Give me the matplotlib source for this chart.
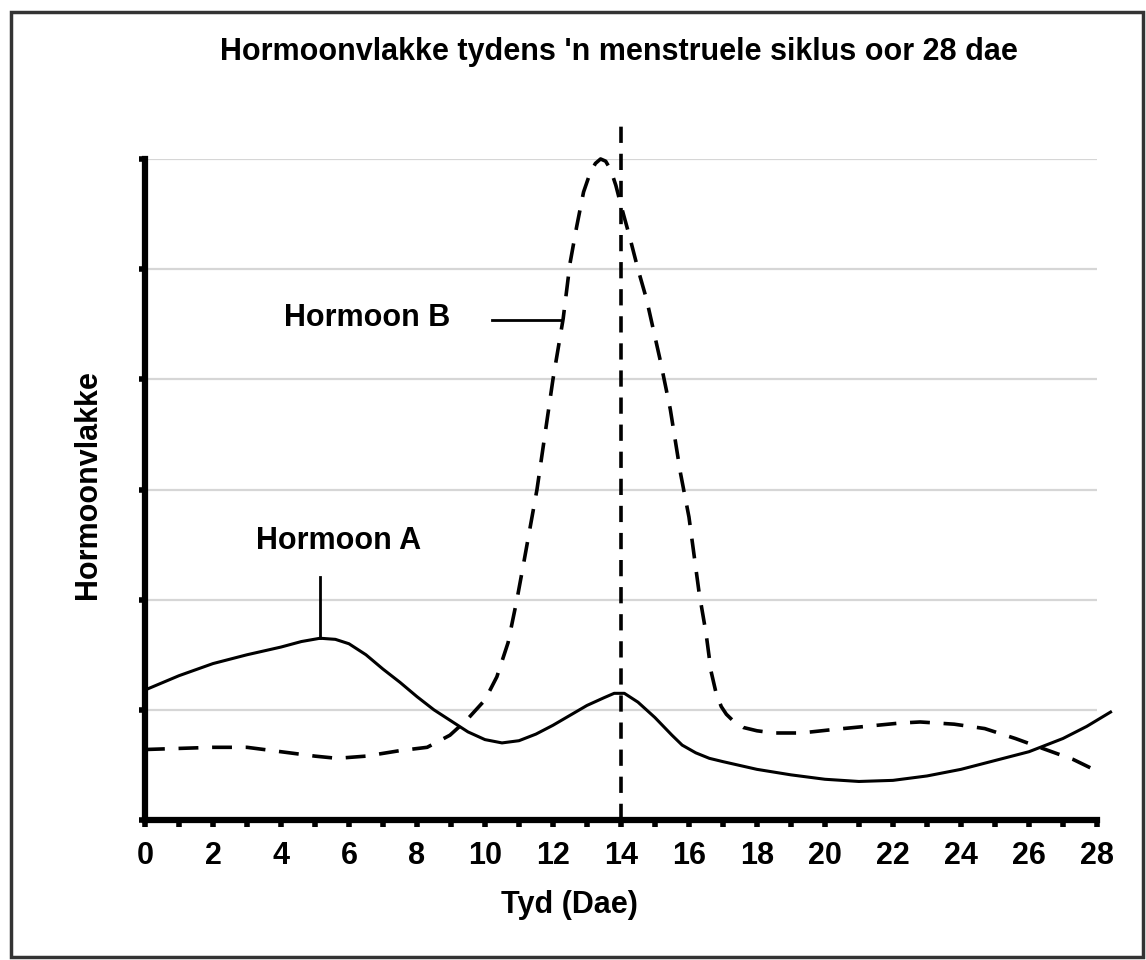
import matplotlib
matplotlib.use('Agg')
import matplotlib.pyplot as plt
from matplotlib.patches import Rectangle

plt.rcParams['font.family'] = ['Liberation Sans', 'DejaVu Sans']
plt.rcParams['font.weight'] = 'bold'

# hormone A (solid line)
days_a = [0, 1, 2, 3, 4, 4.6, 5.15, 5.6, 6, 6.5, 7, 7.5, 8, 8.5, 9, 9.5, 10, 10.5, 11, 11.5,
          12, 12.5, 13, 13.5, 13.8, 14.1, 14.5, 15, 15.5, 15.8, 16.2, 16.6, 17, 18, 19, 20,
          21, 22, 23, 24, 25, 26, 27, 27.7, 28.4]
level_a = [1.18, 1.31, 1.42, 1.50, 1.57, 1.62, 1.65, 1.64, 1.60, 1.50, 1.37, 1.25, 1.12, 1.00,
           0.90, 0.80, 0.73, 0.70, 0.72, 0.78, 0.86, 0.95, 1.04, 1.11, 1.15, 1.15, 1.07, 0.93,
           0.77, 0.68, 0.61, 0.56, 0.53, 0.46, 0.41, 0.37, 0.35, 0.36, 0.40, 0.46, 0.54, 0.62,
           0.74, 0.85, 0.98]

# hormone B (dashed line)
days_b = [0, 1, 2, 3, 4, 5, 5.65, 6.5, 7.5, 8.3, 8.97, 9.47, 10.0, 10.35, 10.68, 10.94, 11.12,
          11.53, 12.0, 12.3, 12.5, 12.7, 12.9, 13.1, 13.25, 13.4, 13.55, 13.7, 13.85, 14.0,
          14.25, 14.5, 14.75, 15.15, 15.45, 15.75, 16.0, 16.3, 16.5, 16.65, 16.8, 16.95, 17.1,
          17.3, 17.6, 18.0, 18.5, 19.3, 20.2, 21.2, 22.2, 22.8, 23.8, 24.7, 25.6, 26.4, 27.3,
          28.1]
level_b = [0.64, 0.65, 0.66, 0.66, 0.62, 0.58, 0.56, 0.58, 0.63, 0.66, 0.77, 0.91, 1.09, 1.30,
           1.61, 2.00, 2.30, 3.00, 4.00, 4.55, 5.05, 5.39, 5.70, 5.88, 5.96, 6.00, 5.98, 5.90,
           5.76, 5.58, 5.30, 5.00, 4.73, 4.18, 3.73, 3.15, 2.75, 2.06, 1.70, 1.35, 1.15, 1.03,
           0.96, 0.90, 0.84, 0.81, 0.79, 0.79, 0.82, 0.85, 0.88, 0.89, 0.87, 0.83, 0.74, 0.65,
           0.55, 0.43]

ovulation_day = 14
x_ticks = list(range(0, 29, 2))
y_levels = list(range(0, 7))

fig = plt.figure(figsize=(11.46, 9.6), dpi=100)
ax = fig.add_axes([0.1265, 0.1458, 0.8307, 0.6886])

ax.plot(days_a, level_a, color='black', lw=2.2, clip_on=False, zorder=3, solid_joinstyle='round')
ax.plot(days_b, level_b, color='black', lw=2.6, dashes=(5.5, 3.8), clip_on=False, zorder=3)
ax.plot([ovulation_day, ovulation_day], [0, 6.32], color='black', lw=2.6,
        dashes=(4.5, 3), clip_on=False, zorder=3)

# labels with pointer lines
ax.text(5.68, 2.53, 'Hormoon A', ha='center', va='center', fontsize=22, fontweight='bold')
ax.plot([5.15, 5.15], [1.65, 2.21], color='black', lw=2)
ax.text(6.53, 4.56, 'Hormoon B', ha='center', va='center', fontsize=22, fontweight='bold')
ax.plot([10.2, 12.26], [4.54, 4.54], color='black', lw=2)

ax.set_xlim(0, 28)
ax.set_ylim(0, 6)
ax.set_xticks(x_ticks)
ax.set_xticks(range(0, 29), minor=True)
ax.set_xticklabels([str(t) for t in x_ticks], fontsize=22, fontweight='bold')
ax.set_yticks(y_levels)
ax.set_yticklabels([])
ax.tick_params(axis='x', which='both', length=5, width=4, pad=10, direction='out')
ax.tick_params(axis='y', length=4, width=4, direction='out')
ax.grid(axis='y', color='#d6d6d6', lw=1.6)
ax.set_axisbelow(True)

for s in ['top', 'right']:
    ax.spines[s].set_visible(False)
ax.spines['left'].set_linewidth(4.5)
ax.spines['bottom'].set_linewidth(4.5)

fig.text(0.540, 0.946, "Hormoonvlakke tydens 'n menstruele siklus oor 28 dae",
         ha='center', va='center', fontsize=22, fontweight='bold')
fig.text(0.497, 0.057, 'Tyd (Dae)', ha='center', va='center', fontsize=22, fontweight='bold')
fig.text(0.077, 0.495, 'Hormoonvlakke', ha='center', va='center', rotation=90,
         fontsize=22, fontweight='bold')

fig.patches.append(Rectangle((0.0095, 0.003), 0.988, 0.985, transform=fig.transFigure,
                             fill=False, edgecolor='#333333', lw=2.5))

fig.savefig('out.png', dpi=100)
